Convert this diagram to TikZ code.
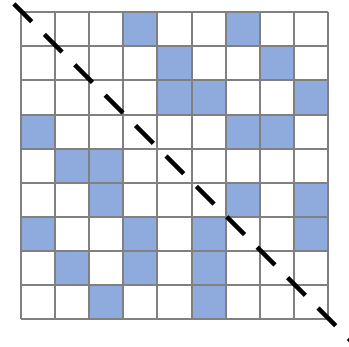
\documentclass[tikz,border=0pt]{standalone}
\usepackage{xcolor}
\usepackage{tikz}
\usetikzlibrary{calc}
\definecolor{cellblue}{RGB}{143,170,220}
\definecolor{gridgray}{RGB}{128,128,128}

\begin{document}
\begin{tikzpicture}[
  x=1pt, y=-1pt,
  cell/.style={fill=cellblue},
  gridline/.style={draw=gridgray, line width=2pt},
  diag/.style={line width=4.5pt, dash pattern=on 25pt off 18pt},
]
\useasboundingbox (0,0) rectangle (349,347);
\coordinate (O) at (21,12.3);
% filled cells as row/column
\foreach \r/\c in {0/3,0/6, 1/4,1/7, 2/4,2/5,2/8, 3/0,3/6,3/7, 4/1,4/2,
                   5/2,5/6,5/8, 6/0,6/3,6/5,6/8, 7/1,7/3,7/5, 8/2,8/5}
  \fill[cell] ($(O)+(\c*34.1,\r*34.1)$) rectangle ++(34.1,34.1);
% grid
\foreach \i in {0,...,9} {
  \draw[gridline] ($(O)+(\i*34.1,0)$) -- ++(0,306.9);
  \draw[gridline] ($(O)+(0,\i*34.1)$) -- ++(306.9,0);
}
\coordinate (start) at (14,4);
\coordinate (stop) at (356,346);
\draw[diag] (start) -- (stop);
\end{tikzpicture}
\end{document}
